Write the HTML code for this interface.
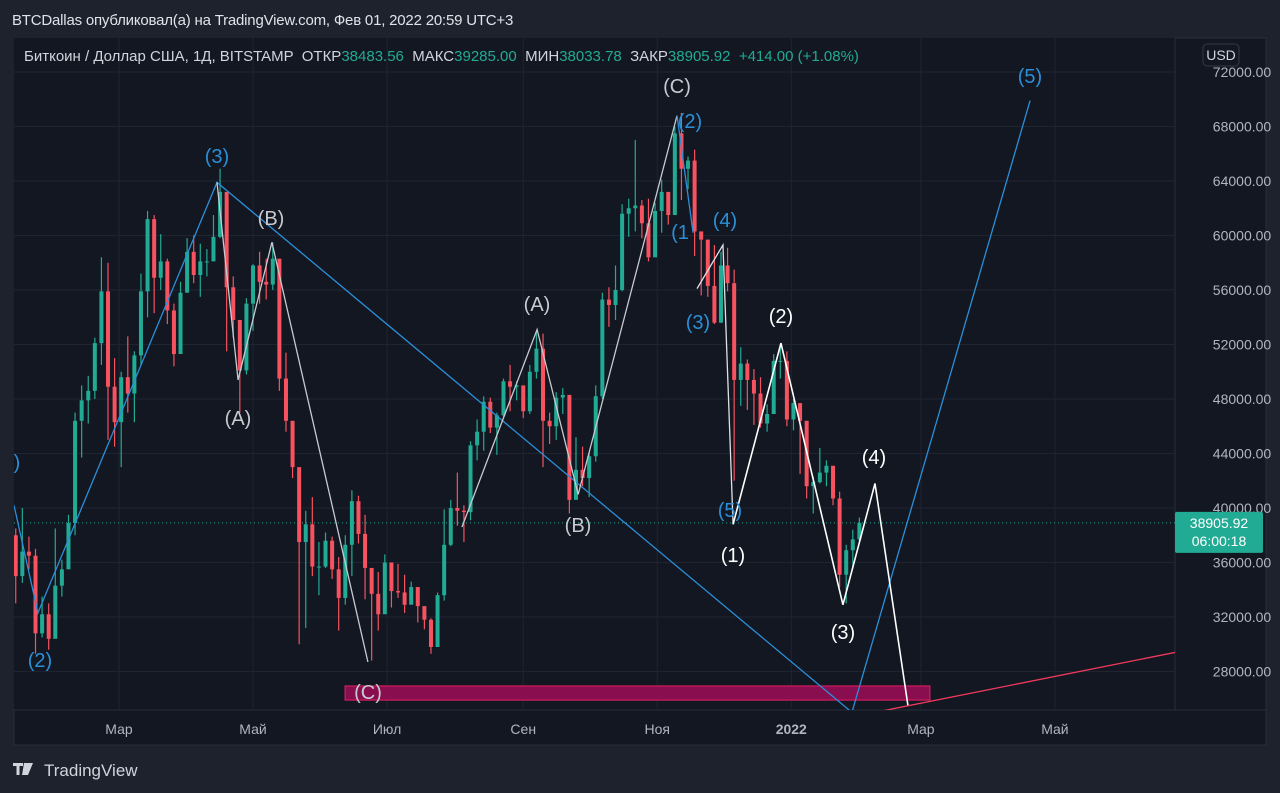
<!DOCTYPE html>
<html><head><meta charset="utf-8">
<style>
html,body{margin:0;padding:0;background:#1e222d;width:1280px;height:793px;overflow:hidden;font-family:"Liberation Sans",sans-serif;}
svg{position:absolute;left:0;top:0}
</style></head>
<body>
<svg id="chart" width="1280" height="793" xmlns="http://www.w3.org/2000/svg"></svg>
<script>
// ---- data (prices in thousands USD, 3-day candles starting day 12 of 2021) ----
const startDay = 12;
const stepDays = 3;
const firstOpen = 38.0;
const closes = [35.0,36.8,36.5,30.8,32.2,30.4,34.3,35.5,38.9,46.4,47.9,48.6,52.1,55.9,48.9,46.3,49.6,48.4,51.2,55.9,61.2,56.9,58.1,54.5,51.3,55.8,58.8,57.1,58.1,58.1,59.9,63.2,56.2,53.8,50.1,55.0,57.8,56.6,56.4,58.3,49.5,46.4,43.0,37.5,38.8,35.7,35.7,37.6,35.5,33.4,37.3,40.5,38.1,35.6,33.7,32.2,36.0,33.9,33.8,32.9,34.2,32.8,31.8,29.8,33.6,37.3,40.0,39.8,39.7,44.6,45.6,47.8,45.9,46.8,49.3,48.9,49.0,47.1,50.0,51.7,46.4,46.0,48.1,48.3,40.6,42.8,42.2,43.8,48.2,55.3,54.9,56.0,61.6,62.0,62.2,60.9,58.4,61.8,63.2,61.5,67.5,64.9,65.5,60.3,59.7,56.3,53.6,57.8,56.5,49.4,50.6,49.4,48.4,46.2,46.9,50.8,50.8,46.5,47.7,46.4,41.6,41.9,42.6,43.1,40.7,35.1,36.9,37.7,38.9];
const highs = [38.5,40.0,37.9,37.0,33.5,33.0,38.5,36.2,39.5,47.0,49.0,49.7,52.5,58.4,58.0,51.0,50.0,52.6,51.5,57.2,61.8,61.5,60.1,58.3,55.0,56.6,59.8,60.0,59.4,59.0,61.5,64.9,62.5,57.0,52.0,55.4,57.9,58.8,58.3,59.5,58.0,51.4,45.8,42.5,39.8,40.8,37.5,38.2,37.9,36.4,38.0,41.3,40.9,39.5,35.0,35.3,36.6,36.0,35.9,35.1,34.6,34.0,32.5,31.9,33.8,39.9,40.6,42.6,40.2,44.9,46.5,48.2,48.1,47.0,49.5,50.5,49.3,48.9,50.5,52.9,52.8,47.0,48.5,48.8,48.0,45.2,44.5,44.1,49.0,55.8,56.2,57.8,62.3,62.7,67.0,62.6,62.7,62.4,64.1,63.0,68.0,69.0,65.8,66.3,60.0,58.9,59.3,58.8,59.1,57.5,51.8,50.9,50.2,49.6,47.6,51.3,52.0,51.5,48.0,47.6,46.4,42.3,44.4,43.5,43.0,41.2,37.3,38.4,39.3];
const lows = [33.0,34.5,35.5,29.3,30.5,29.6,32.0,33.5,36.5,38.0,43.7,46.2,48.0,50.5,45.0,44.5,43.0,47.0,46.3,50.5,54.0,54.3,56.0,53.5,50.4,51.5,56.8,56.5,55.5,57.0,58.8,59.8,51.5,52.5,47.0,49.8,53.0,55.0,55.3,56.0,48.6,45.6,42.2,30.0,31.2,35.0,33.6,35.6,34.8,31.0,32.9,35.0,37.4,33.3,28.8,31.0,32.8,32.7,33.4,32.3,33.0,31.6,31.1,29.3,29.8,33.2,37.2,38.7,37.5,39.1,43.5,44.2,45.5,43.9,46.7,47.1,47.9,46.6,46.9,49.5,43.0,44.7,45.0,46.9,39.6,40.8,41.6,40.8,43.4,48.0,53.3,53.8,55.9,59.9,60.3,59.8,58.1,59.9,60.2,60.8,61.6,62.6,63.4,58.5,55.6,55.5,53.5,53.6,55.9,42.0,47.5,47.2,46.1,45.9,45.6,46.9,49.5,46.0,45.7,42.5,40.7,39.6,41.8,41.6,40.2,34.2,33.0,35.6,37.5];
const priceTicks = [72,68,64,60,56,52,48,44,40,36,32,28];
const monthLabels = ["Мар","Май","Июл","Сен","Ноя","2022","Мар","Май"];
const monthDays = [59,120,181,243,304,365,424,485];
const lastPrice = 38.90592;
// annotations in (day, price)
const bigWave = [[11.2,40.2],[22.1,32.3],[103.6,63.9],[392.6,25.0],[473.7,69.9]];
const abc1 = [[103.6,63.9],[113.2,49.4],[128.6,59.5],[172.3,28.7]];
const abc2 = [[215.1,38.6],[249.3,53.1],[268,41.0],[313,68.8]];
const subWave = [[313,68.8],[320.3,60.2]];
const subWave2 = [[322.1,56.1],[333.9,59.3],[338.5,38.8]];
const whiteWave = [[338.5,38.8],[360.3,52.1],[388.5,32.9],[403.1,41.8],[418.1,25.5]];
const supportLine = [[403.1,25.0],[539.7,29.4]];
const zone = {d0:161.9,d1:428.1,p0:26.94,p1:25.9};

// ---- axes ----
const X = d => 119 + (d - 59) * 2.197;
const Y = p => 72 + (72 - p) * 13.625;
const PL=14, PR=1175, PT=38, PB=710;
const NS="http://www.w3.org/2000/svg";
const svg=document.getElementById('chart');
function mk(tag,attrs,parent){const e=document.createElementNS(NS,tag);for(const k in attrs)e.setAttribute(k,attrs[k]);(parent||svg).appendChild(e);return e;}

const pane=mk('rect',{x:PL,y:PT,width:PR-PL,height:PB-PT,fill:'#131722'});


const yax=mk('rect',{x:PR,y:PT,width:1266-PR,height:PB-PT,fill:'#131722',stroke:'#2a2e39'});


const xax=mk('rect',{x:PL,y:PB,width:1266-PL,height:35,fill:'#131722',stroke:'#2a2e39'});



const grid=mk('g',{stroke:'#1f2431','stroke-width':1});


priceTicks.forEach(p=>{mk('line',{x1:PL,x2:PR,y1:Y(p),y2:Y(p)},grid);});
monthDays.forEach(d=>{mk('line',{x1:X(d),x2:X(d),y1:PT,y2:PB},grid);});

priceTicks.forEach(p=>{
  const t=mk('text',{x:1242,y:Y(p)+5,'text-anchor':'middle',fill:'#b2b5be','font-size':14,'font-family':'Liberation Sans, sans-serif'});
  t.textContent=(p*1000).toFixed(2);
  
  
});
monthLabels.forEach((m,i)=>{
  const t=mk('text',{x:X(monthDays[i]),y:734,'text-anchor':'middle',fill:'#b2b5be','font-size':14,'font-family':'Liberation Sans, sans-serif','font-weight':m==='2022'?'bold':'normal'});
  t.textContent=m;
  
  
});

const defs=mk('defs',{});
const cp=mk('clipPath',{id:'pc'},defs);
mk('rect',{x:PL,y:PT,width:PR-PL,height:PB-PT},cp);
const plot=mk('g',{'clip-path':'url(#pc)'});

const z=mk('rect',{x:X(zone.d0),y:Y(zone.p0),width:X(zone.d1)-X(zone.d0),height:Y(zone.p1)-Y(zone.p0),fill:'#880e4f',stroke:'#e91e63','stroke-width':1},plot);



const lp=mk('line',{x1:PL,x2:PR,y1:Y(lastPrice),y2:Y(lastPrice),stroke:'#22ab94','stroke-dasharray':'1 3'},plot);



const cg=mk('g',{},plot);


closes.forEach((c,i)=>{
  const o=i===0?firstOpen:closes[i-1];
  const d=startDay+i*stepDays;
  const x=X(d);
  const col=c>=o?'#22ab94':'#f7525f';
  const g=mk('g',{},cg);
  
  
  mk('line',{x1:x,x2:x,y1:Y(highs[i]),y2:Y(lows[i]),stroke:col,'stroke-width':1.2},g);
  const top=Y(Math.max(o,c)),bot=Y(Math.min(o,c));
  mk('rect',{x:x-2,y:top,width:4,height:Math.max(1,bot-top),fill:col},g);
});

function poly(pts,color,name,w){
  const e=mk('polyline',{points:pts.map(p=>X(p[0])+','+Y(p[1])).join(' '),fill:'none',stroke:color,'stroke-width':w||1.3},plot);
  
  
}
poly(bigWave,'#2b8fd8','primary-wave-line');
poly(abc1,'#c8cad0','abc-correction-1');
poly(abc2,'#c8cad0','abc-correction-2');
poly(subWave,'#2b8fd8','sub-wave-line');
poly(subWave2,'#dfe1e6','sub-wave-line-2');
poly(whiteWave,'#ffffff','projection-wave-line',1.6);
poly(supportLine,'#f23a5d','support-trendline');

const labels=[
 ['(3)',217,163,'#2b8fd8'],['(2)',40,667,'#2b8fd8'],[')',17,469,'#2b8fd8'],['(2)',690,128,'#2b8fd8'],['(1',680,239,'#2b8fd8'],
 ['(4)',725,227,'#2b8fd8'],['(3)',698,329,'#2b8fd8'],['(5)',730,517,'#2b8fd8'],['(5)',1030,83,'#2b8fd8'],
 ['(B)',271,225,'#c8cad0'],['(A)',238,425,'#c8cad0'],['(C)',368,699,'#c8cad0'],['(A)',537,311,'#c8cad0'],['(B)',578,532,'#c8cad0'],['(C)',677,93,'#c8cad0'],
 ['(1)',733,562,'#ffffff'],['(2)',781,323,'#ffffff'],['(3)',843,639,'#ffffff'],['(4)',874,464,'#ffffff']
];
labels.forEach(l=>{
  const t=mk('text',{x:l[1],y:l[2],'text-anchor':'middle',fill:l[3],'font-size':20,'font-family':'Liberation Sans, sans-serif'},svg);
  t.textContent=l[0];
  
  
});

const tag=mk('g',{});


mk('rect',{x:1175,y:Y(lastPrice)-11,width:88,height:41,rx:2,fill:'#22ab94'},tag);
const t1=mk('text',{x:1219,y:Y(lastPrice)+5,'text-anchor':'middle',fill:'#fff','font-size':14,'font-family':'Liberation Sans, sans-serif'},tag);
t1.textContent='38905.92';
const t2=mk('text',{x:1219,y:Y(lastPrice)+23,'text-anchor':'middle',fill:'#fff','font-size':14,'font-family':'Liberation Sans, sans-serif'},tag);
t2.textContent='06:00:18';

const ub=mk('g',{});


mk('rect',{x:1203,y:44,width:36,height:22,rx:4,fill:'#131722',stroke:'#363a45'},ub);
const ut=mk('text',{x:1221,y:60,'text-anchor':'middle',fill:'#d1d4dc','font-size':14,'font-family':'Liberation Sans, sans-serif'},ub);
ut.textContent='USD';

const h=mk('text',{x:12,y:25,fill:'#e0e3eb','font-size':15,'letter-spacing':'-0.2'},svg);
h.textContent='BTCDallas опубликовал(а) на TradingView.com, Фев 01, 2022 20:59 UTC+3';



const lg=mk('text',{x:24,y:61,'font-size':15,fill:'#d1d4dc'},svg);


const parts=[['Биткоин / Доллар США, 1Д, BITSTAMP  ОТКР','#d1d4dc'],['38483.56','#22ab94'],['  МАКС','#d1d4dc'],['39285.00','#22ab94'],['  МИН','#d1d4dc'],['38033.78','#22ab94'],['  ЗАКР','#d1d4dc'],['38905.92','#22ab94'],['  +414.00 (+1.08%)','#22ab94']];
parts.forEach(p=>{const s=mk('tspan',{fill:p[1]},lg);s.setAttribute('xml:space','preserve');s.textContent=p[0];});
lg.setAttribute('style','white-space:pre');

const logo=mk('g',{});


mk('path',{d:'M13 763h10v3h-3.5v9h-3v-9H13z M24 763h4l-3 12h-3z M27 763h6l-5 12h-3z',fill:'#d1d4dc'},logo);
const lt=mk('text',{x:44,y:776,fill:'#d1d4dc','font-size':17,'font-family':'Liberation Sans, sans-serif'},logo);
lt.textContent='TradingView';
</script>
</body></html>
